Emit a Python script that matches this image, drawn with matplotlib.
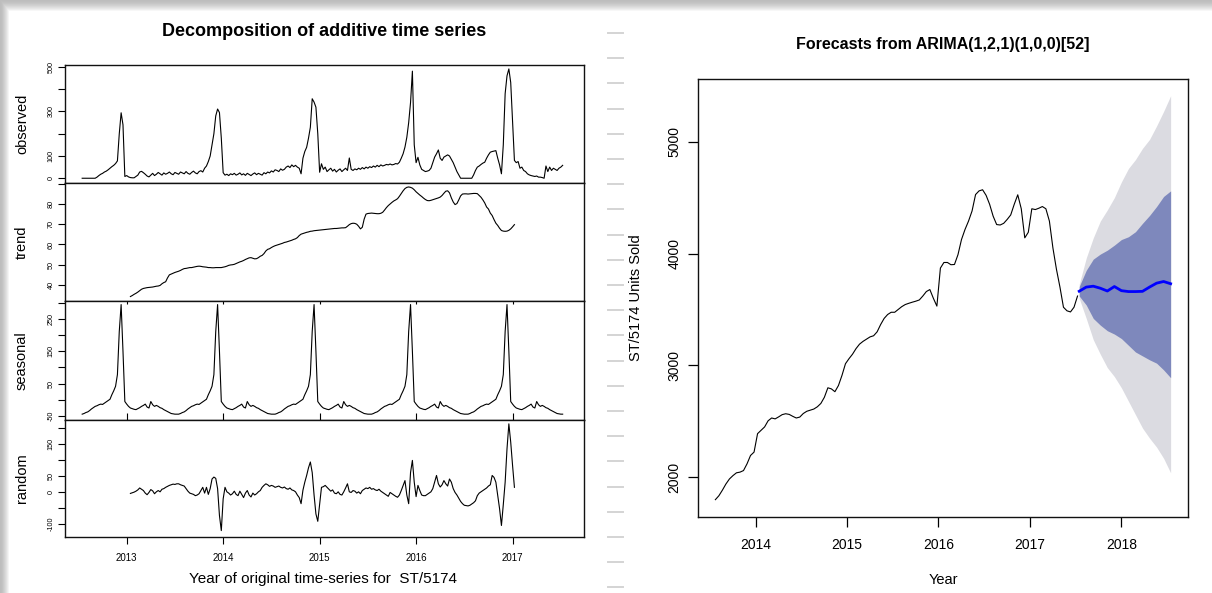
import numpy as np
import matplotlib.pyplot as plt
from matplotlib.lines import Line2D

plt.rcParams['font.family'] = ['Liberation Sans', 'DejaVu Sans']

# ---- weekly sales of ST/5174 (frequency 52) ----
start = 2012.538
freq = 52

observed = [
    0, 0, 0, 0, 0, 0, 0, 0, 5, 12,
    18, 22, 28, 32, 38, 45, 52, 58, 66, 78,
    200, 294, 240, 8, 12, 6, 3, 2, 2, 8,
    14, 28, 31, 25, 18, 10, 6, 14, 22, 12,
    18, 26, 20, 14, 24, 18, 22, 28, 20, 16,
    26, 22, 18, 28, 24, 20, 30, 22, 18, 26,
    32, 24, 20, 30, 34, 28, 45, 55, 75, 100,
    150, 200, 280, 311, 295, 180, 25, 14, 18, 12,
    20, 16, 22, 14, 18, 24, 15, 20, 13, 22,
    17, 12, 19, 24, 16, 22, 18, 14, 25, 20,
    28, 24, 33, 28, 38, 35, 30, 42, 36, 40,
    50, 55, 48, 60, 52, 58, 50, 45, 20, 90,
    120, 139, 180, 229, 357, 342, 319, 200, 27, 65,
    40, 50, 30, 38, 45, 32, 40, 28, 36, 42,
    30, 38, 45, 35, 91, 40, 35, 42, 38, 45,
    40, 48, 42, 50, 45, 52, 48, 55, 50, 58,
    52, 60, 55, 58, 62, 60, 64, 60, 62, 66,
    64, 72, 90, 110, 140, 184, 250, 340, 481, 150,
    70, 94, 60, 40, 35, 30, 32, 35, 45, 70,
    95, 110, 127, 90, 80, 95, 100, 105, 100, 85,
    70, 50, 30, 15, 0, 0, 0, 0, 0, 0,
    0, 15, 35, 50, 55, 62, 68, 72, 90, 105,
    117, 120, 122, 124, 90, 60, 20, 150, 380, 460,
    491, 430, 250, 80, 70, 75, 45, 50, 35, 30,
    20, 15, 12, 10, 8, 10, 5, 5, 3, 0,
    55, 30, 50, 35, 45, 40, 35, 45, 50, 58,
]

# centred moving average, weeks 26..233
trend_offset = 26
trend = [
    34.3, 34.8, 35.4, 35.9, 36.5, 37.2, 37.9, 38.3, 38.5, 38.7,
    38.8, 38.9, 39.0, 39.2, 39.4, 39.5, 39.8, 40.6, 41.2, 41.6,
    43.5, 45.0, 45.4, 45.8, 46.2, 46.5, 46.8, 47.2, 47.7, 48.1,
    48.2, 48.4, 48.6, 48.6, 48.8, 49.0, 49.2, 49.3, 49.2, 49.0,
    48.9, 48.8, 48.6, 48.6, 48.5, 48.5, 48.6, 48.6, 48.6, 48.6,
    48.8, 49.0, 49.3, 49.7, 49.9, 50.0, 50.2, 50.6, 51.0, 51.4,
    51.7, 52.1, 52.6, 53.0, 53.4, 53.5, 53.2, 52.9, 53.0, 53.5,
    54.2, 54.6, 55.5, 56.8, 57.6, 57.9, 58.5, 59.0, 59.4, 59.7,
    60.0, 60.3, 60.6, 61.0, 61.2, 61.5, 61.8, 62.1, 62.5, 62.8,
    63.4, 64.4, 65.1, 65.4, 65.7, 66.0, 66.2, 66.5, 66.6, 66.8,
    66.9, 67.0, 67.1, 67.2, 67.3, 67.4, 67.5, 67.6, 67.7, 67.8,
    67.9, 67.9, 68.0, 68.1, 68.2, 68.2, 68.3, 69.0, 69.8, 70.3,
    70.5, 70.4, 70.0, 69.0, 67.7, 68.5, 72.5, 75.0, 75.3, 75.4,
    75.5, 75.4, 75.3, 75.2, 75.2, 75.4, 75.9, 77.0, 78.2, 79.2,
    80.0, 80.8, 81.5, 82.0, 82.6, 83.8, 85.2, 86.5, 87.6, 88.2,
    88.4, 88.2, 87.8, 87.0, 86.0, 85.2, 84.4, 83.7, 82.9, 82.2,
    81.7, 81.6, 81.8, 82.1, 82.4, 82.7, 83.0, 83.4, 84.2, 85.3,
    86.3, 86.5, 85.5, 83.0, 81.0, 79.7, 80.2, 82.0, 84.0, 84.9,
    85.0, 85.0, 84.9, 85.0, 85.1, 85.2, 85.2, 85.1, 84.2, 83.3,
    82.0, 80.5, 78.5, 77.5, 75.5, 74.3, 72.3, 70.5, 69.4, 68.0,
    66.9, 66.6, 66.5, 66.6, 67.0, 67.7, 68.7, 69.8,
]

# one year of the seasonal figure (repeats every 52 weeks)
seasonal_figure = [
    -44, -42, -39, -37, -33, -28, -24, -20, -18, -15,
    -13, -14, -10, -6, -2, 2, 16, 28, 42, 78,
    211, 294, 150, -5, -13, -20, -25, -27, -29, -30,
    -27, -24, -20, -17, -13, -22, -25, -5, -15, -20,
    -17, -20, -24, -26, -30, -33, -36, -39, -42, -43,
    -44, -44,
]

random_part = [
    -5, -3, -1, 2, 6, 12, 8, 4, -4, -9,
    -2, 7, 3, -6, 0, 4, 0, 8, 10, 14,
    17, 20, 22, 24, 23, 25, 25, 22, 20, 18,
    10, 2, -4, -6, -8, -12, -10, -6, 4, 14,
    -4, 14, -8, 10, 40, 46, 42, 10, -74, -121,
    -22, 14, 0, -4, -10, -6, 2, -8, -12, 2,
    -8, -18, -4, 4, -10, -16, -4, -10, -6, 0,
    4, 14, 20, 25, 22, 17, 20, 18, 14, 16,
    18, 14, 12, 15, 10, 8, 12, 6, 4, 0,
    -10, -18, -37, 5, 30, 51, 75, 93, 60, -10,
    -69, -92, -40, 14, 16, 20, 14, 8, 2, 6,
    -4, -6, 0, -8, -10, 0, 12, 25, 0, -2,
    4, 2, -4, 0, -6, 4, 8, 12, 10, 14,
    8, 10, 6, 4, 8, 2, -2, -6, -10, -14,
    -2, -6, -10, -14, -17, -10, 4, 20, 35, -10,
    -37, 60, 98, 30, -15, 20, 4, -10, -12, -12,
    -8, -4, 0, 10, 30, 51, 25, 15, 22, 35,
    25, 18, 40, 30, 10, -2, -10, -20, -30, -37,
    -42, -43, -44, -42, -38, -34, -28, -12, -4, 0,
    4, 8, 12, 18, 22, 51, 45, 30, -12, -53,
    -105, -40, 30, 134, 212, 155, 82, 14,
]

# ---- 52-week running total of units sold, every 2 weeks ----
units_start = 2013.56
units_step = 2 / 52
units_sold = [
    1800, 1835, 1885, 1940, 1985, 2015, 2040, 2046, 2060, 2120,
    2195, 2225, 2390, 2420, 2450, 2505, 2530, 2522, 2540, 2560,
    2568, 2562, 2545, 2530, 2538, 2570, 2590, 2600, 2610, 2630,
    2660, 2715, 2800, 2790, 2765, 2820, 2910, 3015, 3060, 3100,
    3150, 3190, 3215, 3235, 3255, 3265, 3300, 3365, 3420, 3455,
    3475, 3475, 3500, 3525, 3544, 3555, 3565, 3574, 3585, 3620,
    3660, 3678, 3600, 3530, 3870, 3920, 3920, 3900, 3902, 3990,
    4125, 4215, 4290, 4380, 4527, 4560, 4570, 4520, 4440, 4334,
    4259, 4255, 4270, 4305, 4345, 4440, 4525, 4400, 4140, 4190,
    4400, 4393, 4405, 4420, 4400, 4290, 4050, 3860, 3700, 3520,
    3488, 3478, 3520, 3620,
]

# ARIMA(1,2,1)(1,0,0)[52] forecast, every 4 weeks
fc_start = 2017.54
fc_step = 4 / 52
fc_mean = [3663, 3700, 3708, 3690, 3665, 3705, 3668, 3660, 3660, 3662, 3700, 3735, 3750, 3730]
fc_lo80 = [3620, 3540, 3420, 3360, 3310, 3280, 3240, 3180, 3120, 3085, 3050, 3020, 2960, 2890]
fc_hi80 = [3705, 3850, 3950, 3995, 4030, 4075, 4125, 4150, 4195, 4270, 4340, 4420, 4510, 4560]
fc_lo95 = [3600, 3420, 3230, 3100, 2980, 2900, 2800, 2680, 2560, 2440, 2350, 2270, 2170, 2040]
fc_hi95 = [3725, 3960, 4140, 4290, 4390, 4500, 4640, 4760, 4840, 4940, 5020, 5140, 5270, 5410]

W, H = 1212, 593
fig = plt.figure(figsize=(W / 100, H / 100), dpi=100)


def fx(px):
    return px / W


def fy(py):
    return 1 - py / H


# grey drop shadow along the top and left edges
bg = fig.add_axes([0, 0, 1, 1], zorder=-10)
yy, xx = np.mgrid[0:H, 0:W]
shade = np.minimum(0.74 + 0.26 * np.clip(yy / 11.0, 0, 1) ** 1.5,
                   0.74 + 0.26 * np.clip(xx / 9.0, 0, 1) ** 1.5)
bg.imshow(shade, cmap='gray', vmin=0, vmax=1, aspect='auto',
          extent=[0, W, H, 0], interpolation='bilinear')
bg.axis('off')

# faint ruler dashes between the two plots
for k in range(23):
    y = 33 + 25.2 * k
    fig.add_artist(Line2D([fx(608), fx(623)], [fy(y), fy(y)],
                          color='#d4d4d4', lw=1.4, transform=fig.transFigure))

# ---- left: decomposition ----
t_obs = start + np.arange(len(observed)) / freq
t_mid = t_obs[trend_offset:trend_offset + len(trend)]
seasonal = np.tile(seasonal_figure, len(observed) // freq)

panels = [
    ('observed', t_obs, observed, (64.7, 182.7), (-20, 510),
     [0, 100, 200, 300, 400, 500], ['0', '100', '', '300', '', '500']),
    ('trend', t_mid, trend, (182.7, 301), (32.1, 90.5),
     [40, 50, 60, 70, 80, 90], ['40', '50', '60', '70', '80', '']),
    ('seasonal', t_obs, seasonal, (301, 420), (-62, 305),
     [-50, 0, 50, 100, 150, 200, 250, 300], ['-50', '', '50', '', '150', '', '250', '']),
    ('random', t_mid, random_part, (420, 536.7), (-140, 224),
     [-100, -50, 0, 50, 100, 150, 200], ['-100', '', '0', '50', '', '150', '']),
]

for i, (name, t, vals, (ytop, ybot), ylim, ticks, labels) in enumerate(panels):
    ax = fig.add_axes([fx(65), fy(ybot), fx(584) - fx(65), fy(ytop) - fy(ybot)])
    ax.plot(t, vals, color='black', lw=0.8)
    ax.set_xlim(2012.36, 2017.74)
    ax.set_ylim(*ylim)
    ax.set_yticks(ticks)
    ax.set_yticklabels(labels, fontsize=5.2)
    ax.tick_params(axis='y', direction='out', length=5, width=0.8, pad=2.5,
                   labelrotation=90)
    for lbl in ax.get_yticklabels():
        lbl.set_va('center')
    ax.set_xticks([2013, 2014, 2015, 2016, 2017])
    if name == 'random':
        ax.set_xticklabels(['2013', '2014', '2015', '2016', '2017'], fontsize=7)
        ax.tick_params(axis='x', direction='out', length=5, width=0.8, pad=7,
                       top=True, labeltop=False)
    elif name == 'seasonal':
        ax.tick_params(axis='x', direction='in', length=2.5, width=0.8, top=True,
                       bottom=False, labelbottom=False)
    else:
        ax.tick_params(axis='x', bottom=False, labelbottom=False)
    for s in ax.spines.values():
        s.set_linewidth(1.0)
        s.set_color('#111111')
    fig.text(fx(22), fy((ytop + ybot) / 2), name, rotation=90,
             ha='center', va='center', fontsize=10.5)

fig.text(fx(324), fy(32), 'Decomposition of additive time series',
         ha='center', va='center', fontsize=13, fontweight='bold')
fig.text(fx(323), fy(579), 'Year of original time-series for  ST/5174',
         ha='center', va='center', fontsize=11)

# ---- right: forecast ----
axr = fig.add_axes([fx(698), fy(517), fx(1188) - fx(698), fy(79) - fy(517)])
t_units = units_start + np.arange(len(units_sold)) * units_step
t_fc = fc_start + np.arange(len(fc_mean)) * fc_step
axr.fill_between(t_fc, fc_lo95, fc_hi95, color='#dbdbe1', lw=0)
axr.fill_between(t_fc, fc_lo80, fc_hi80, color='#7e88bc', lw=0)
axr.plot(t_units, units_sold, color='black', lw=0.8)
axr.plot(t_fc, fc_mean, color='#0000ff', lw=2)
axr.set_xlim(2013.37, 2018.73)
axr.set_ylim(1645, 5560)
axr.set_xticks([2014, 2015, 2016, 2017, 2018])
axr.set_yticks([2000, 3000, 4000, 5000])
axr.tick_params(axis='both', direction='out', length=7, width=0.9, labelsize=10)
axr.tick_params(axis='x', pad=8)
axr.tick_params(axis='y', pad=5, labelrotation=90)
for lbl in axr.get_yticklabels():
    lbl.set_va('center')
for s in axr.spines.values():
    s.set_linewidth(1.0)
    s.set_color('#111111')

fig.text(fx(943), fy(45), 'Forecasts from ARIMA(1,2,1)(1,0,0)[52]',
         ha='center', va='center', fontsize=11.5, fontweight='bold')
fig.text(fx(943), fy(580), 'Year', ha='center', va='center', fontsize=10.5)
fig.text(fx(636), fy(298), 'ST/5174 Units Sold', rotation=90,
         ha='center', va='center', fontsize=10.5)

fig.savefig('out.png', dpi=100)
